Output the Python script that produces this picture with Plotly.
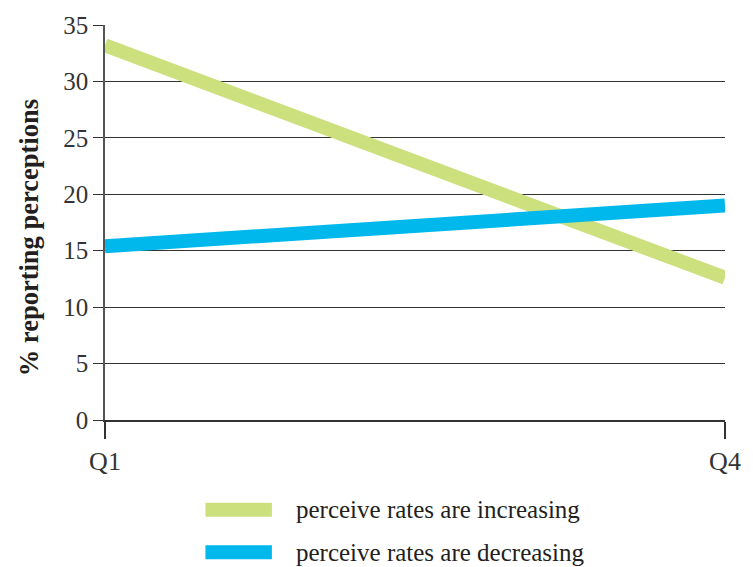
import plotly.graph_objects as go

quarters = ["Q1", "Q4"]
increasing = [33.2, 12.6]
decreasing = [15.4, 19.0]
series_names = ["perceive rates are increasing", "perceive rates are decreasing"]
series_colors = ["#cde07e", "#00b8ec"]
y_ticks = [0, 5, 10, 15, 20, 25, 30, 35]

FONT = "Liberation Serif"
TXT = "#333333"

fig = go.Figure()
xpos = list(range(len(quarters)))
for vals, name, col in zip([increasing, decreasing], series_names, series_colors):
    fig.add_trace(go.Scatter(x=xpos, y=vals, mode="lines", name=name,
                             line=dict(color=col, width=14), showlegend=False,
                             hoverinfo="skip"))

fig.update_layout(
    width=753, height=567,
    margin=dict(l=105, r=23, t=24, b=147),
    paper_bgcolor="white", plot_bgcolor="white",
    font=dict(family=FONT, size=25, color=TXT),
    showlegend=False,
)
fig.update_xaxes(
    range=[0, 1], tickvals=xpos, ticktext=quarters,
    showgrid=False, zeroline=False,
    showline=True, linecolor="#333333", linewidth=1.5,
    ticks="outside", ticklen=17, tickwidth=1.5, tickcolor="#333333",
    tickfont=dict(family=FONT, size=26, color=TXT),
)
fig.update_yaxes(
    range=[0, 35], tickvals=y_ticks,
    showgrid=True, gridcolor="#333333", gridwidth=1.3,
    zeroline=False,
    showline=True, linecolor="#555555", linewidth=1.5,
    ticks="outside", ticklen=10, tickwidth=1.3, tickcolor="#333333",
    tickfont=dict(family=FONT, size=25, color=TXT),
)

# y-axis title
fig.add_annotation(text="<b>% reporting perceptions</b>", xref="paper", yref="paper",
                   x=-0.123, y=0.462, xanchor="center", yanchor="middle",
                   textangle=-90, showarrow=False,
                   font=dict(family=FONT, size=26.5, color="#231f20"))

# manual legend
rows_y = [-0.2273, -0.3346]
for name, col, yy in zip(series_names, series_colors, rows_y):
    fig.add_shape(type="rect", xref="paper", yref="paper",
                  x0=0.162, x1=0.2692, y0=yy - 0.0177, y1=yy + 0.0177,
                  fillcolor=col, line=dict(width=0))
    fig.add_annotation(text=name, xref="paper", yref="paper", x=0.3045, y=yy,
                       xanchor="left", yanchor="middle", showarrow=False,
                       font=dict(family=FONT, size=25, color="#231f20"))

fig.write_html("out.html", config={"displayModeBar": False},
               post_script="document.body.style.margin='0';document.body.style.overflow='hidden';")
